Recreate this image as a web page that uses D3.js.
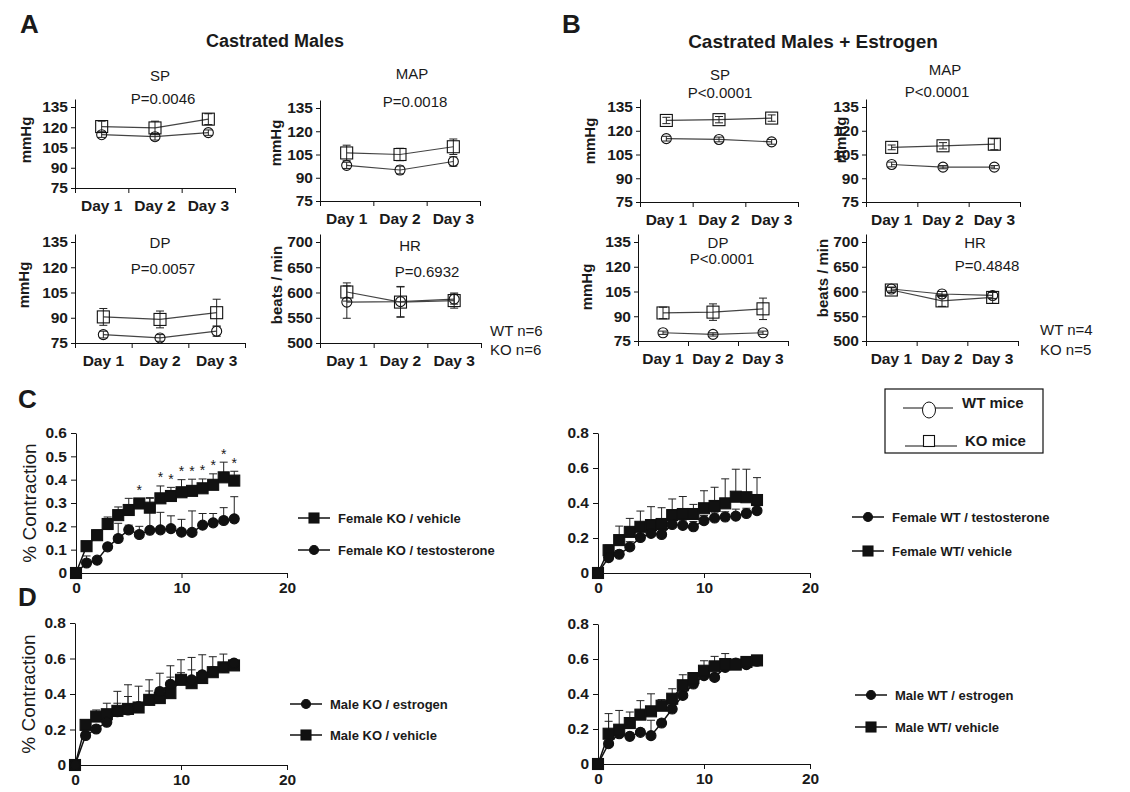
<!DOCTYPE html>
<html>
<head>
<meta charset="utf-8">
<style>
  body { margin: 0; background: #fff; font-family: Arial, 'Liberation Sans', sans-serif; }
  svg text { fill: #1a1a1a; font-family: Arial, 'Liberation Sans', sans-serif; }
  .ax path, .ax line { stroke: #111; stroke-width: 1px; }
  .ax text { font-size: 15.5px; font-weight: bold; fill: #1a1a1a; }
  .nodom path { display: none; }
  .ptitle { font-size: 15px; }
  .ylab { font-size: 15px; font-weight: bold; }
  .leg { font-size: 13px; font-weight: bold; }
</style>
</head>
<body>
<svg id="fig" width="1130" height="792"></svg>
<script src="https://d3js.org/d3.v7.min.js"></script>
<script>
  // ---------- data ----------
  const days = ['Day 1', 'Day 2', 'Day 3']

  // A: castrated males (WT = circles, KO = squares)
  const aSpWT = [114.5, 113, 116],  aSpWTErr = [2, 2.5, 2]
  const aSpKO = [120.5, 119.5, 126], aSpKOErr = [4, 5, 4]
  const aMapWT = [98, 95, 100.5],   aMapWTErr = [2, 2.5, 3]
  const aMapKO = [106, 105, 110],   aMapKOErr = [5, 4, 5]
  const aDpWT = [80, 78, 82],       aDpWTErr = [2, 2, 3]
  const aDpKO = [90.5, 89, 93],     aDpKOErr = [5, 5, 8]
  const aHrWT = [581, 582, 587],    aHrWTErr = [32, 30, 10]
  const aHrKO = [601, 581, 584],    aHrKOErr = [18, 30, 15]

  // B: castrated males + estrogen
  const bSpWT = [115, 114.5, 113],  bSpWTErr = [1.5, 1.5, 1.5]
  const bSpKO = [126.5, 127, 128],  bSpKOErr = [2, 2, 2]
  const bMapWT = [98.7, 97, 97],    bMapWTErr = [1.5, 1, 1]
  const bMapKO = [109.5, 110.5, 111.5], bMapKOErr = [1.5, 2, 3.5]
  const bDpWT = [80, 79, 80],       bDpWTErr = [1, 1, 1]
  const bDpKO = [92, 92.5, 94.5],   bDpKOErr = [3.5, 5, 6.5]
  const bHrWT = [605, 595, 592],    bHrWTErr = [4, 5, 6]
  const bHrKO = [603, 581, 588],    bHrKOErr = [5, 11, 12]

  const mmTicks = [75, 90, 105, 120, 135]
  const hrTicks = [500, 550, 600, 650, 700]

  // C / D: contraction time course
  const tPts = [0, 1, 2, 3, 4, 5, 6, 7, 8, 9, 10, 11, 12, 13, 14, 15]

  const cKoVeh    = [0, 0.115, 0.162, 0.21, 0.248, 0.27, 0.298, 0.28, 0.32, 0.33, 0.346, 0.352, 0.363, 0.378, 0.41, 0.396]
  const cKoVehErr = [0, 0.02, 0.022, 0.03, 0.035, 0.05, 0.02, 0.04, 0.053, 0.037, 0.054, 0.05, 0.04, 0.047, 0.065, 0.04]
  const cKoTes    = [0, 0.043, 0.055, 0.112, 0.148, 0.185, 0.165, 0.183, 0.185, 0.19, 0.175, 0.174, 0.205, 0.215, 0.225, 0.232]
  const cKoTesErr = [0, 0.03, 0.01, 0.01, 0.065, 0.02, 0.035, 0.14, 0.075, 0.055, 0.055, 0.092, 0.05, 0.04, 0.055, 0.095]
  const cStars = [6, 8, 9, 10, 11, 12, 13, 14, 15]

  const cWtTes    = [0, 0.088, 0.107, 0.149, 0.203, 0.226, 0.22, 0.277, 0.272, 0.264, 0.299, 0.314, 0.32, 0.325, 0.34, 0.356]
  const cWtTesErr = [0, 0.02, 0.02, 0.03, 0.04, 0.03, 0.04, 0.03, 0.03, 0.03, 0.03, 0.03, 0.03, 0.04, 0.03, 0.03]
  const cWtVeh    = [0, 0.13, 0.188, 0.235, 0.264, 0.274, 0.28, 0.331, 0.337, 0.337, 0.37, 0.383, 0.398, 0.436, 0.433, 0.417]
  const cWtVehErr = [0, 0.03, 0.08, 0.077, 0.09, 0.105, 0.093, 0.092, 0.1, 0.055, 0.1, 0.107, 0.14, 0.157, 0.16, 0.128]

  const dKoEst    = [0, 0.166, 0.203, 0.241, 0.3, 0.31, 0.33, 0.367, 0.414, 0.455, 0.48, 0.48, 0.508, 0.527, 0.55, 0.574]
  const dKoEstErr = [0, 0.02, 0.02, 0.03, 0.048, 0.076, 0.02, 0.05, 0.02, 0.04, 0.04, 0.056, 0.02, 0.02, 0.02, 0.02]
  const dKoVeh    = [0, 0.226, 0.273, 0.286, 0.305, 0.316, 0.324, 0.367, 0.377, 0.405, 0.48, 0.461, 0.49, 0.523, 0.55, 0.561]
  const dKoVehErr = [0, 0.015, 0.037, 0.062, 0.11, 0.136, 0.12, 0.113, 0.14, 0.154, 0.113, 0.145, 0.131, 0.087, 0.075, 0.03]

  const dWtEst    = [0, 0.116, 0.173, 0.158, 0.181, 0.162, 0.234, 0.314, 0.392, 0.457, 0.505, 0.495, 0.552, 0.577, 0.568, 0.587]
  const dWtEstErr = [0, 0.128, 0.05, 0.02, 0.02, 0.088, 0.02, 0.02, 0.02, 0.02, 0.02, 0.02, 0.02, 0.02, 0.02, 0.02]
  const dWtVeh    = [0, 0.173, 0.196, 0.234, 0.282, 0.301, 0.333, 0.373, 0.45, 0.491, 0.533, 0.558, 0.571, 0.568, 0.583, 0.592]
  const dWtVehErr = [0, 0.115, 0.11, 0.063, 0.08, 0.1, 0.035, 0.057, 0.06, 0.03, 0.057, 0.057, 0.06, 0.02, 0.02, 0.02]

  const svg = d3.select('#fig')

  // 画一个方块或圆点
  function marker(sel, shape, cx, cy, size, filled) {
    if (shape === 'square') {
      return sel.append('rect')
        .attr('x', cx - size / 2).attr('y', cy - size / 2)
        .attr('width', size).attr('height', size)
        .attr('fill', filled ? '#111' : 'none')
        .attr('stroke', '#111').attr('stroke-width', 1.1)
    }
    return sel.append('circle')
      .attr('cx', cx).attr('cy', cy).attr('r', size / 2)
      .attr('fill', filled ? '#111' : 'none')
      .attr('stroke', '#111').attr('stroke-width', 1.1)
  }

  // A / B small panels (day 1-3)
  function dayPanel(o) {
    const g = svg.append('g')
    const y = d3.scaleLinear().domain([o.ticks[0], o.ticks[o.ticks.length - 1]]).range([o.yb, o.yt])
    const yAx = d3.scaleLinear().domain([o.ticks[0], y.invert(o.yt - 8)]).range([o.yb, o.yt - 8])

    g.append('g').attr('class', 'ax').attr('transform', `translate(${o.x0},0)`)
      .call(d3.axisLeft(yAx).tickValues(o.ticks).tickSize(4).tickSizeOuter(0).tickPadding(3))

    const xb = d3.scaleLinear().domain([0, days.length]).range([o.x0, o.x1])
    g.append('g').attr('class', 'ax').attr('transform', `translate(0,${o.yb})`)
      .call(d3.axisBottom(xb).tickValues([0, 1, 2, 3]).tickSize(5).tickSizeOuter(0).tickFormat(''))

    const xc = d3.scaleBand().domain(days).range([o.x0, o.x1])
    g.append('g').attr('class', 'ax nodom').attr('transform', `translate(0,${o.yb})`)
      .call(d3.axisBottom(xc).tickSize(0).tickPadding(o.lblPad))

    const cx = d => xc(d) + xc.bandwidth() / 2
    const series = [
      { v: o.wt, e: o.wtErr, shape: 'circle', size: 10 },
      { v: o.ko, e: o.koErr, shape: 'square', size: 12 }
    ]
    series.forEach(s => {
      const pts = days.map((d, i) => [cx(d), y(s.v[i]), y(s.v[i] + s.e[i]), y(s.v[i] - s.e[i])])
      g.append('path').attr('d', d3.line()(pts.map(p => [p[0], p[1]])))
        .attr('fill', 'none').attr('stroke', '#444').attr('stroke-width', 1.2)
      pts.forEach(p => {
        g.append('line').attr('x1', p[0]).attr('x2', p[0]).attr('y1', p[2]).attr('y2', p[3])
          .attr('stroke', '#222').attr('stroke-width', 1)
        ;[p[2], p[3]].forEach(yy => g.append('line')
          .attr('x1', p[0] - 4).attr('x2', p[0] + 4).attr('y1', yy).attr('y2', yy)
          .attr('stroke', '#222').attr('stroke-width', 1))
        marker(g, s.shape, p[0], p[1], s.size, false)
      })
    })

    g.append('text').attr('class', 'ptitle').attr('x', o.tx).attr('y', o.ty)
      .attr('text-anchor', 'middle').text(o.title)
    g.append('text').attr('class', 'ptitle').attr('x', o.px).attr('y', o.py)
      .attr('text-anchor', 'middle').text(o.p)
    g.append('text').attr('class', 'ylab')
      .attr('transform', `translate(${o.lx},${o.ly}) rotate(-90)`)
      .attr('text-anchor', 'middle').text(o.ylab)
  }

  // C / D time-course panels
  function timePanel(o) {
    const g = svg.append('g')
    const x = d3.scaleLinear().domain([0, 20]).range([o.x0, o.x1])
    const y = d3.scaleLinear().domain([0, o.yMax]).range([o.yb, o.yt])

    g.append('g').attr('class', 'ax').attr('transform', `translate(${o.x0},0)`)
      .call(d3.axisLeft(y).tickValues(o.yTicks).tickSize(5).tickSizeOuter(0).tickPadding(4)
        .tickFormat(d => d === 0 ? '0' : d3.format('.1f')(d)))
    g.append('g').attr('class', 'ax').attr('transform', `translate(0,${o.yb})`)
      .call(d3.axisBottom(x).tickValues([0, 10, 20]).tickSize(5).tickSizeOuter(0).tickPadding(4))

    o.series.forEach(s => {
      tPts.forEach((t, i) => {
        if (!s.e[i]) return
        const px = x(t), top = y(s.v[i] + s.e[i])
        g.append('line').attr('x1', px).attr('x2', px).attr('y1', y(s.v[i])).attr('y2', top)
          .attr('stroke', '#222').attr('stroke-width', 1)
        g.append('line').attr('x1', px - 4).attr('x2', px + 4).attr('y1', top).attr('y2', top)
          .attr('stroke', '#222').attr('stroke-width', 1)
      })
    })
    o.series.forEach(s => {
      g.append('path').attr('d', d3.line()(tPts.map((t, i) => [x(t), y(s.v[i])])))
        .attr('fill', 'none').attr('stroke', '#111').attr('stroke-width', 1.5)
      tPts.forEach((t, i) => marker(g, s.shape, x(t), y(s.v[i]), s.shape === 'square' ? 11 : 10, true))
    })

    if (o.stars) {
      const s = o.series[o.stars.ref]
      o.stars.idx.forEach(i => {
        g.append('text').attr('x', x(tPts[i])).attr('y', y(s.v[i] + s.e[i] + 0.05) + 8)
          .attr('text-anchor', 'middle').attr('font-size', 14).attr('fill', '#333').text('*')
      })
    }

    // legend
    o.legend.forEach((l, k) => {
      const s = o.series[l.ref]
      const ly = o.legY[k]
      g.append('line').attr('x1', o.legX).attr('x2', o.legX + 32).attr('y1', ly).attr('y2', ly)
        .attr('stroke', '#111').attr('stroke-width', 1.5)
      marker(g, s.shape, o.legX + 16, ly, s.shape === 'square' ? 10 : 9, true)
      g.append('text').attr('class', 'leg').attr('x', o.legX + 40).attr('y', ly + 5).text(l.label)
    })

    if (o.ylab) {
      g.append('text').attr('transform', `translate(${o.x0 - 40},${(o.yb + o.yt) / 2}) rotate(-90)`)
        .attr('text-anchor', 'middle').attr('font-size', 19).text('% Contraction')
    }
  }

  // ---------- panel letters and headings ----------
  const letters = [['A', 20, 33], ['B', 562, 33], ['C', 18, 408], ['D', 18, 606]]
  letters.forEach(l => svg.append('text').attr('x', l[1]).attr('y', l[2])
    .attr('font-size', 26).attr('font-weight', 'bold').text(l[0]))
  svg.append('text').attr('x', 275).attr('y', 47).attr('text-anchor', 'middle')
    .attr('font-size', 18).attr('font-weight', 'bold').text('Castrated Males')
  svg.append('text').attr('x', 813).attr('y', 48).attr('text-anchor', 'middle')
    .attr('font-size', 19).attr('font-weight', 'bold').text('Castrated Males + Estrogen')

  // ---------- A ----------
  dayPanel({ x0: 75, x1: 235, yb: 188, yt: 107, ticks: mmTicks, lblPad: 12,
    wt: aSpWT, wtErr: aSpWTErr, ko: aSpKO, koErr: aSpKOErr,
    title: 'SP', tx: 160, ty: 81, p: 'P=0.0046', px: 163, py: 104, ylab: 'mmHg', lx: 31, ly: 140 })
  dayPanel({ x0: 320, x1: 480, yb: 201, yt: 108, ticks: mmTicks, lblPad: 12,
    wt: aMapWT, wtErr: aMapWTErr, ko: aMapKO, koErr: aMapKOErr,
    title: 'MAP', tx: 412, ty: 79, p: 'P=0.0018', px: 415, py: 107, ylab: 'mmHg', lx: 281, ly: 143 })
  dayPanel({ x0: 75, x1: 245, yb: 343, yt: 242, ticks: mmTicks, lblPad: 12,
    wt: aDpWT, wtErr: aDpWTErr, ko: aDpKO, koErr: aDpKOErr,
    title: 'DP', tx: 160, ty: 248, p: 'P=0.0057', px: 163, py: 274, ylab: 'mmHg', lx: 29, ly: 285 })
  dayPanel({ x0: 320, x1: 481, yb: 343, yt: 242, ticks: hrTicks, lblPad: 12,
    wt: aHrWT, wtErr: aHrWTErr, ko: aHrKO, koErr: aHrKOErr,
    title: 'HR', tx: 410, ty: 251, p: 'P=0.6932', px: 427, py: 277, ylab: 'beats / min', lx: 282, ly: 285 })
  svg.append('text').attr('x', 490).attr('y', 336).attr('font-size', 15).text('WT n=6')
  svg.append('text').attr('x', 490).attr('y', 355).attr('font-size', 15).text('KO n=6')

  // ---------- B ----------
  dayPanel({ x0: 640, x1: 798, yb: 202, yt: 107, ticks: mmTicks, lblPad: 12,
    wt: bSpWT, wtErr: bSpWTErr, ko: bSpKO, koErr: bSpKOErr,
    title: 'SP', tx: 720, ty: 80, p: 'P<0.0001', px: 720, py: 98, ylab: 'mmHg', lx: 595, ly: 141 })
  dayPanel({ x0: 866, x1: 1020, yb: 202, yt: 107, ticks: mmTicks, lblPad: 12,
    wt: bMapWT, wtErr: bMapWTErr, ko: bMapKO, koErr: bMapKOErr,
    title: 'MAP', tx: 945, ty: 75, p: 'P<0.0001', px: 937, py: 97, ylab: 'mmHg', lx: 846, ly: 140 })
  dayPanel({ x0: 638, x1: 788, yb: 341, yt: 242, ticks: mmTicks, lblPad: 12,
    wt: bDpWT, wtErr: bDpWTErr, ko: bDpKO, koErr: bDpKOErr,
    title: 'DP', tx: 718, ty: 248, p: 'P<0.0001', px: 722, py: 264, ylab: 'mmHg', lx: 592, ly: 287 })
  dayPanel({ x0: 866, x1: 1018, yb: 341, yt: 242, ticks: hrTicks, lblPad: 12,
    wt: bHrWT, wtErr: bHrWTErr, ko: bHrKO, koErr: bHrKOErr,
    title: 'HR', tx: 975, ty: 248, p: 'P=0.4848', px: 987, py: 271, ylab: 'beats / min', lx: 828, ly: 278 })
  svg.append('text').attr('x', 1040).attr('y', 335).attr('font-size', 15).text('WT n=4')
  svg.append('text').attr('x', 1040).attr('y', 355).attr('font-size', 15).text('KO n=5')

  // WT / KO legend box
  const lg = svg.append('g')
  lg.append('rect').attr('x', 885).attr('y', 389).attr('width', 158).attr('height', 64)
    .attr('fill', 'none').attr('stroke', '#111').attr('stroke-width', 1.2)
  lg.append('line').attr('x1', 903).attr('x2', 953).attr('y1', 408).attr('y2', 408).attr('stroke', '#111')
  lg.append('ellipse').attr('cx', 929).attr('cy', 410).attr('rx', 6.5).attr('ry', 8)
    .attr('fill', '#fff').attr('stroke', '#111')
  lg.append('text').attr('x', 962).attr('y', 408).attr('font-size', 15).attr('font-weight', 'bold').text('WT mice')
  lg.append('line').attr('x1', 905).attr('x2', 957).attr('y1', 446).attr('y2', 446).attr('stroke', '#111')
  marker(lg, 'square', 929, 441, 11, false).attr('fill', '#fff')
  lg.append('text').attr('x', 965).attr('y', 446).attr('font-size', 15).attr('font-weight', 'bold').text('KO mice')

  // ---------- C ----------
  timePanel({ x0: 76, x1: 287, yb: 573, yt: 433, yMax: 0.6, yTicks: [0, 0.1, 0.2, 0.3, 0.4, 0.5, 0.6], ylab: true,
    series: [{ v: cKoTes, e: cKoTesErr, shape: 'circle' }, { v: cKoVeh, e: cKoVehErr, shape: 'square' }],
    stars: { ref: 1, idx: cStars },
    legX: 298, legY: [518, 550],
    legend: [{ ref: 1, label: 'Female KO / vehicle' }, { ref: 0, label: 'Female KO / testosterone' }] })
  timePanel({ x0: 598, x1: 810, yb: 573, yt: 433, yMax: 0.8, yTicks: [0, 0.2, 0.4, 0.6, 0.8],
    series: [{ v: cWtVeh, e: cWtVehErr, shape: 'square' }, { v: cWtTes, e: cWtTesErr, shape: 'circle' }],
    legX: 852, legY: [517, 551],
    legend: [{ ref: 1, label: 'Female WT / testosterone' }, { ref: 0, label: 'Female WT/ vehicle' }] })

  // ---------- D ----------
  timePanel({ x0: 75, x1: 287, yb: 765, yt: 623, yMax: 0.8, yTicks: [0, 0.2, 0.4, 0.6, 0.8], ylab: true,
    series: [{ v: dKoVeh, e: dKoVehErr, shape: 'square' }, { v: dKoEst, e: dKoEstErr, shape: 'circle' }],
    legX: 290, legY: [704, 735],
    legend: [{ ref: 1, label: 'Male KO / estrogen' }, { ref: 0, label: 'Male KO / vehicle' }] })
  timePanel({ x0: 598, x1: 810, yb: 764, yt: 624, yMax: 0.8, yTicks: [0, 0.2, 0.4, 0.6, 0.8],
    series: [{ v: dWtEst, e: dWtEstErr, shape: 'circle' }, { v: dWtVeh, e: dWtVehErr, shape: 'square' }],
    legX: 855, legY: [695, 727],
    legend: [{ ref: 0, label: 'Male WT / estrogen' }, { ref: 1, label: 'Male WT/ vehicle' }] })
</script>
</body>
</html>
